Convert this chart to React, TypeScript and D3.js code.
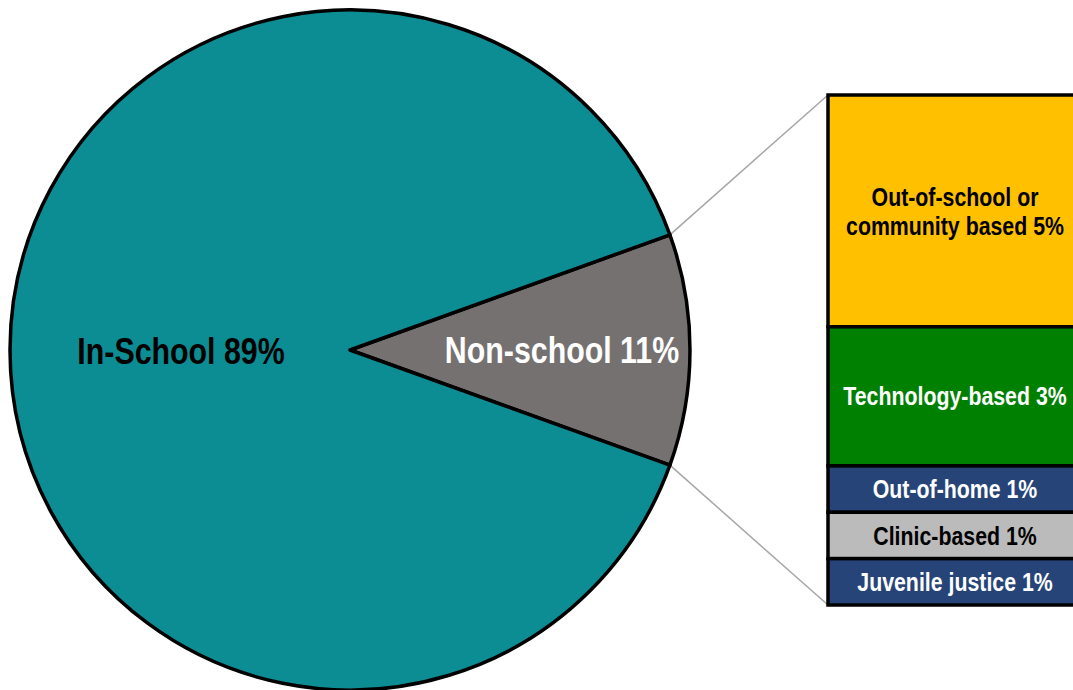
import React from "react";
import * as d3 from "d3";

const pieLabels = ["Non-school 11%", "In-School 89%"];
const pieValues = [11, 89];
const pieColors = ["#767171", "#0C8C93"];
const pieTextColors = ["#FFFFFF", "#000000"];

const barLabels = [
  ["Out-of-school or", "community based 5%"],
  ["Technology-based 3%"],
  ["Out-of-home 1%"],
  ["Clinic-based 1%"],
  ["Juvenile justice 1%"],
];
const barValues = [5, 3, 1, 1, 1];
const barColors = ["#FFC000", "#008000", "#264478", "#BBBBBB", "#264478"];
const barTextColors = ["#000000", "#FFFFFF", "#FFFFFF", "#000000", "#FFFFFF"];

const W = 1073;
const H = 690;
const FONT = "'Liberation Sans', Arial, sans-serif";
const SX = 0.82;

export default function App() {
  const cx = 350;
  const cy = 350;
  const r = 340;
  const share = pieValues[0] / d3.sum(pieValues);
  const start = Math.PI / 2 - share * Math.PI;
  const pie = d3
    .pie<number>()
    .sort(null)
    .startAngle(start)
    .endAngle(start + 2 * Math.PI)
    .value((d) => d);
  const arcs = pie(pieValues);
  const arc = d3.arc<d3.PieArcDatum<number>>().innerRadius(0).outerRadius(r);

  const ptAt = (a: number) => [cx + r * Math.sin(a), cy - r * Math.cos(a)];
  const pTop = ptAt(arcs[0].startAngle);
  const pBot = ptAt(arcs[0].endAngle);

  const barX0 = 828;
  const barX1 = 1082;
  const y = d3.scaleLinear().domain([0, d3.sum(barValues)]).range([95, 605]);
  const cum = d3.cumsum(barValues);
  const segs = barValues.map((v, i) => ({
    y0: y(cum[i] - v),
    y1: y(cum[i]),
    i,
  }));

  const pieLabelPos = [
    [562, 350],
    [181, 351],
  ];
  const bxc = 955;

  return (
    <svg
      width={W}
      height={H}
      style={{ position: "absolute", left: 0, top: 0 }}
      fontFamily={FONT}
      fontWeight="bold"
    >
      <rect width={W} height={H} fill="#fff" />
      <line x1={pTop[0]} y1={pTop[1]} x2={barX0} y2={y(0)} stroke="#A6A6A6" strokeWidth={1.5} />
      <line x1={pBot[0]} y1={pBot[1]} x2={barX0} y2={y(d3.sum(barValues))} stroke="#A6A6A6" strokeWidth={1.5} />
      <g transform={`translate(${cx},${cy})`}>
        {arcs.map((a, i) => (
          <path key={i} d={arc(a) || ""} fill={pieColors[i]} stroke="#000" strokeWidth={3.5} strokeLinejoin="round" />
        ))}
      </g>
      {pieLabels.map((t, i) => (
        <text
          key={i}
          transform={`translate(${pieLabelPos[i][0]},${pieLabelPos[i][1]}) scale(${SX},1)`}
          dy="0.35em"
          textAnchor="middle"
          fontSize={37}
          fill={pieTextColors[i]}
        >
          {t}
        </text>
      ))}
      {segs.map((s) => (
        <rect
          key={s.i}
          x={barX0}
          y={s.y0}
          width={barX1 - barX0}
          height={s.y1 - s.y0}
          fill={barColors[s.i]}
          stroke="#000"
          strokeWidth={3.5}
        />
      ))}
      {segs.map((s) => {
        const lines = barLabels[s.i];
        const mid = (s.y0 + s.y1) / 2;
        const lh = 29;
        return (
          <g key={s.i}>
            {lines.map((l, j) => (
              <text
                key={j}
                transform={`translate(${bxc},${mid + (j - (lines.length - 1) / 2) * lh}) scale(${SX},1)`}
                dy="0.35em"
                textAnchor="middle"
                fontSize={26}
                fill={barTextColors[s.i]}
              >
                {l}
              </text>
            ))}
          </g>
        );
      })}
    </svg>
  );
}
